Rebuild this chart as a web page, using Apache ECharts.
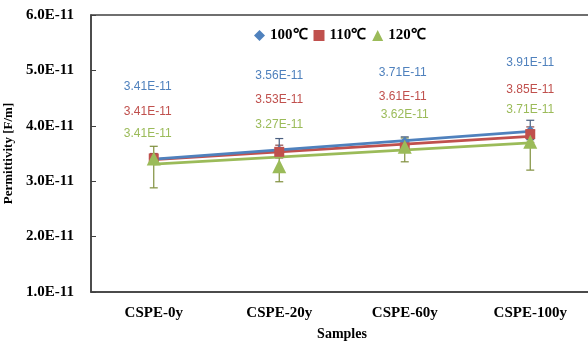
<!DOCTYPE html>
<html>
<head>
<meta charset="utf-8">
<script src="https://cdn.jsdelivr.net/npm/echarts@6/dist/echarts.min.js"></script>
<style>
html, body { margin: 0; padding: 0; background: #fff; }
#chart { width: 588px; height: 342px; }
</style>
</head>
<body>
<div id="chart"></div>
<script>
// values in units of 1E-11 F/m
const samples = ['CSPE-0y', 'CSPE-20y', 'CSPE-60y', 'CSPE-100y'];
const temps = ['100℃', '110℃', '120℃'];

const perm100 = [3.41, 3.56, 3.71, 3.91];
const perm110 = [3.41, 3.53, 3.61, 3.85];
const perm120 = [3.41, 3.27, 3.62, 3.71];

// error bar ends (low / high)
const low100 = [3.36, 3.45, 3.62, 3.75];
const high100 = [3.46, 3.77, 3.80, 4.10];
const low110 = [3.33, 3.42, 3.55, 3.70];
const high110 = [3.50, 3.65, 3.68, 3.98];
const low120 = [2.88, 2.99, 3.35, 3.20];
const high120 = [3.63, 3.50, 3.78, 3.90];

// linear trend lines, value at first and last sample
const trend100 = [3.40, 3.90];
const trend110 = [3.39, 3.81];
const trend120 = [3.31, 3.69];

const yMin = 1, yMax = 6, yStep = 1;

const colors = ['#4f81bd', '#c0504d', '#9bbb59'];
const errColors = ['#4a5f80', '#8c4a48', '#7f8f3c'];
const symbols = ['diamond', 'rect', 'triangle'];
const symbolSizes = [10, 10, 14];
// label placement relative to the marker (pixels)
const labelShift = [
    [[-6, -72], [0, -74], [-2, -69], [0, -68]],
    [[-6, -47], [0, -52], [-2, -51], [0, -44]],
    [[-6, -25], [0, -42], [0, -32], [0, -32]],
];

const perms = [perm100, perm110, perm120];
const lows = [low100, low110, low120];
const highs = [high100, high110, high120];
const trends = [trend100, trend110, trend120];

function errorSeries(i) {
    return {
        type: 'custom',
        name: temps[i] + ' err',
        silent: true,
        z: 1,
        renderItem(params, api) {
            const x = api.value(0);
            const lo = api.coord([x, api.value(1)]);
            const hi = api.coord([x, api.value(2)]);
            const w = 4;
            const style = { stroke: errColors[i], lineWidth: 1.2 };
            return {
                type: 'group',
                children: [
                    { type: 'line', shape: { x1: lo[0], y1: lo[1], x2: hi[0], y2: hi[1] }, style },
                    { type: 'line', shape: { x1: lo[0] - w, y1: lo[1], x2: lo[0] + w, y2: lo[1] }, style },
                    { type: 'line', shape: { x1: hi[0] - w, y1: hi[1], x2: hi[0] + w, y2: hi[1] }, style },
                ],
            };
        },
        data: lows[i].map((l, k) => [k, l, highs[i][k]]),
    };
}

function trendSeries(i) {
    return {
        type: 'line',
        name: temps[i] + ' trend',
        silent: true,
        z: 2,
        symbol: 'none',
        lineStyle: { color: colors[i], width: 2.8 },
        data: [[0, trends[i][0]], [samples.length - 1, trends[i][1]]],
    };
}

function pointSeries(i) {
    return {
        type: 'scatter',
        name: temps[i],
        z: 3,
        symbol: symbols[i],
        symbolSize: symbolSizes[i],
        itemStyle: { color: colors[i], opacity: 1 },
        data: perms[i].map((v, k) => ({
            value: [k, v],
            label: {
                show: true,
                position: 'inside',
                offset: labelShift[i][k],
                formatter: v.toFixed(2) + 'E-11',
                color: colors[i],
                fontFamily: 'Liberation Sans',
                fontSize: 12,
            },
        })),
    };
}

const series = [];
[2, 1, 0].forEach(i => series.push(errorSeries(i)));
[2, 1, 0].forEach(i => series.push(trendSeries(i)));
[0, 1, 2].forEach(i => series.push(pointSeries(i)));

const axisFont = { fontFamily: 'Liberation Serif', fontWeight: 'bold', color: '#000' };

const option = {
    animation: false,
    grid: {
        left: 91, right: -5, top: 15, bottom: 50,
        containLabel: false,
        outerBoundsMode: 'none',
        show: true, borderColor: '#404040', borderWidth: 1.5,
    },
    legend: {
        left: 249, top: 23,
        itemWidth: 11, itemHeight: 11, itemGap: 6,
        textStyle: { ...axisFont, fontSize: 15 },
        data: temps.map((t, i) => ({ name: t, icon: symbols[i], itemStyle: { color: colors[i] } })),
    },
    xAxis: {
        type: 'category',
        data: samples,
        name: 'Samples',
        nameLocation: 'middle',
        nameGap: 35,
        nameTextStyle: { ...axisFont, fontSize: 14 },
        axisLine: { lineStyle: { color: '#404040', width: 1.5 } },
        axisTick: { inside: true, length: 4, lineStyle: { color: '#404040' } },
        axisLabel: { ...axisFont, fontSize: 15, margin: 14 },
    },
    yAxis: {
        type: 'value',
        min: yMin, max: yMax, interval: yStep,
        name: 'Permittivity [F/m]',
        nameLocation: 'middle',
        nameGap: 68,
        nameTextStyle: { ...axisFont, fontSize: 13 },
        axisLine: { show: true, lineStyle: { color: '#404040', width: 1.5 } },
        axisTick: { show: true, inside: true, length: 5, lineStyle: { color: '#404040' } },
        splitLine: { show: false },
        axisLabel: { ...axisFont, fontSize: 15, margin: 17, formatter: v => v.toFixed(1) + 'E-11' },
    },
    series,
};

const chart = echarts.init(document.getElementById('chart'));
chart.setOption(option);
</script>
</body>
</html>
